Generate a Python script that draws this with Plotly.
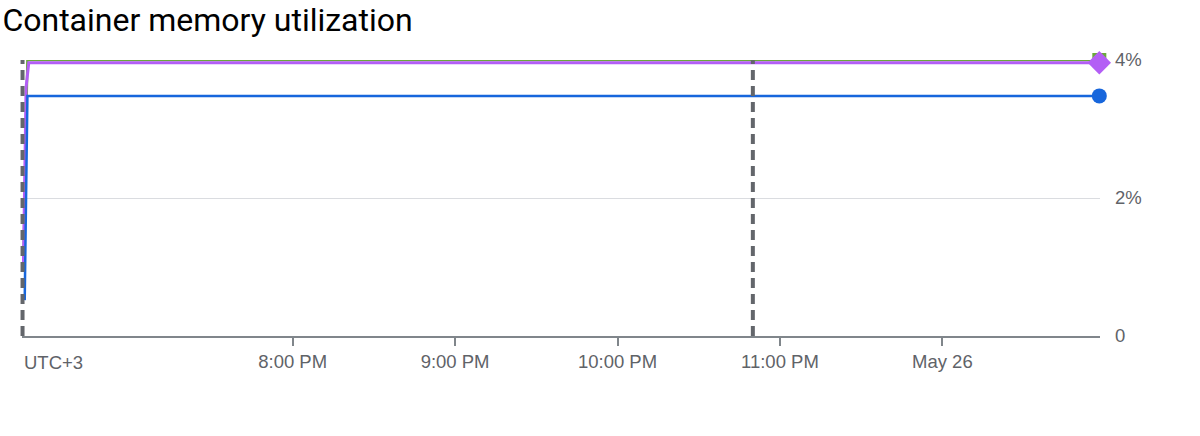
import plotly.graph_objects as go

# Data (local time UTC+3)
green_t = ["2024-05-25 18:20:30", "2024-05-25 18:22:00", "2024-05-25 19:30:00", "2024-05-25 21:00:00",
           "2024-05-25 22:50:00", "2024-05-26 00:58:00"]
green_v = [1.01, 4.00, 4.00, 4.00, 4.00, 4.00]

purple_t = ["2024-05-25 18:20:30", "2024-05-25 18:21:30", "2024-05-25 18:22:30", "2024-05-25 19:30:00",
            "2024-05-25 21:00:00", "2024-05-25 22:50:00", "2024-05-26 00:58:00"]
purple_v = [0.95, 3.60, 3.96, 3.96, 3.96, 3.96, 3.96]

blue_t = ["2024-05-25 18:21:00", "2024-05-25 18:22:00", "2024-05-25 19:30:00", "2024-05-25 21:00:00",
          "2024-05-25 22:50:00", "2024-05-26 00:58:00"]
blue_v = [0.52, 3.48, 3.48, 3.48, 3.48, 3.48]

tick_vals = ["2024-05-25 20:00", "2024-05-25 21:00", "2024-05-25 22:00", "2024-05-25 23:00", "2024-05-26 00:00"]
tick_text = ["8:00 PM", "9:00 PM", "10:00 PM", "11:00 PM", "May 26"]
y_ticks = [0, 2, 4]
y_text = ["0", "2%", "4%"]
event_time = "2024-05-25 22:50:00"

x_range = ["2024-05-25 18:20:00", "2024-05-26 00:58:15"]

GREEN = "#6aa83b"
PURPLE = "#b35ef5"
BLUE = "#1766dc"
GREY = "#5f6368"
TICKFONT = "Liberation Sans, Arial, sans-serif"

fig = go.Figure()
fig.add_trace(go.Scatter(x=green_t, y=green_v, mode="lines", line=dict(color=GREEN, width=2.5),
                         showlegend=False, hoverinfo="skip"))
fig.add_trace(go.Scatter(x=purple_t, y=purple_v, mode="lines", line=dict(color=PURPLE, width=3),
                         showlegend=False, hoverinfo="skip"))
fig.add_trace(go.Scatter(x=blue_t, y=blue_v, mode="lines", line=dict(color=BLUE, width=2.5),
                         showlegend=False, hoverinfo="skip"))
# end markers
fig.add_trace(go.Scatter(x=[green_t[-1]], y=[green_v[-1]], mode="markers",
                         marker=dict(symbol="square", size=14, color=GREEN), showlegend=False, cliponaxis=False))
fig.add_trace(go.Scatter(x=[purple_t[-1]], y=[purple_v[-1]], mode="markers",
                         marker=dict(symbol="diamond", size=18, color=PURPLE, line=dict(width=0)),
                         showlegend=False, cliponaxis=False))
fig.add_trace(go.Scatter(x=[blue_t[-1]], y=[blue_v[-1]], mode="markers",
                         marker=dict(symbol="circle", size=15, color=BLUE), showlegend=False, cliponaxis=False))

# event markers: window start (left edge) and one event inside the window
fig.add_shape(type="line", x0=0.0005, x1=0.0005, y0=0, y1=1, xref="paper", yref="paper",
              line=dict(color="#63666b", width=4, dash="10px,6px"), layer="above")
fig.add_shape(type="line", x0=event_time, x1=event_time, y0=0, y1=1, xref="x", yref="paper",
              line=dict(color="#63666b", width=4, dash="10px,6px"), layer="above")

fig.add_annotation(text="UTC+3", x=0, xref="paper", y=-0.05, yref="paper", xanchor="left", yanchor="top",
                   showarrow=False, font=dict(family=TICKFONT, size=18.5, color=GREY))

fig.update_layout(
    width=1200, height=436,
    margin=dict(l=22, r=100, t=60, b=100, autoexpand=False),
    paper_bgcolor="white", plot_bgcolor="white",
    title=dict(text="Container memory utilization", x=0.002, xref="container", xanchor="left",
               y=0.955, yref="container", yanchor="middle", pad=dict(l=0),
               font=dict(family="Roboto, Arial", size=32, color="#000000")),
    xaxis=dict(type="date", range=x_range, tickvals=tick_vals, ticktext=tick_text,
               showgrid=False, showline=True, linecolor="#80868b", linewidth=2,
               ticks="outside", ticklen=8, tickcolor="#80868b", tickwidth=2,
               tickfont=dict(family=TICKFONT, size=18.5, color=GREY), zeroline=False,
               automargin=False, fixedrange=True),
    yaxis=dict(range=[0, 4.0], side="right", tickvals=y_ticks, ticktext=y_text,
               showgrid=True, gridcolor="#dadce0", gridwidth=1, zeroline=False, showline=False,
               ticks="", tickfont=dict(family=TICKFONT, size=18.5, color=GREY),
               ticklabelstandoff=14, automargin=False),
)

fig.write_html("out.html", config={"displayModeBar": False},
               post_script="document.body.style.margin='0px';")
